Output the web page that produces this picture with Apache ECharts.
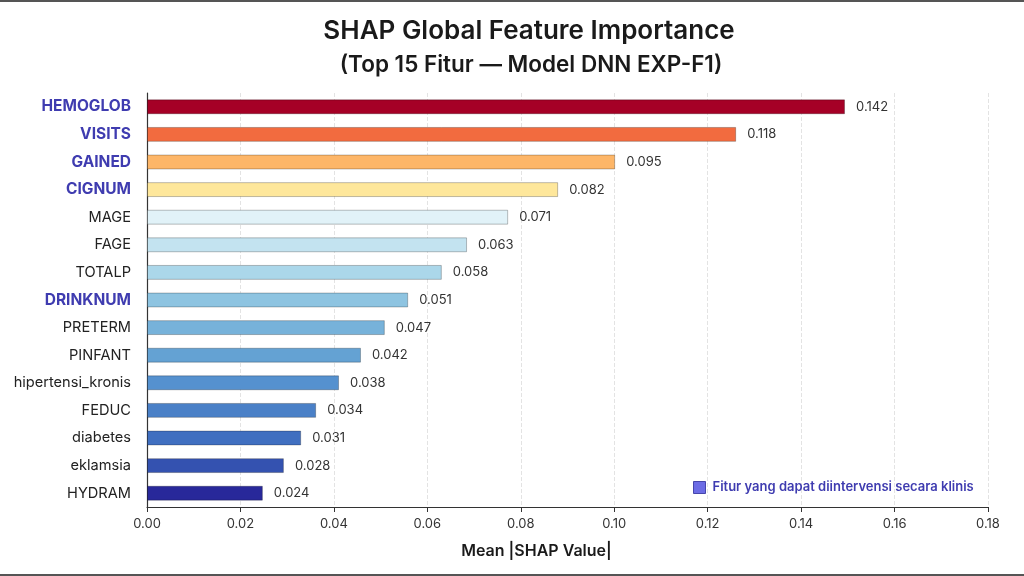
<!DOCTYPE html>
<html>
<head>
<meta charset="utf-8">
<script src="https://cdn.jsdelivr.net/npm/echarts@6/dist/echarts.min.js"></script>
<style>
html,body{margin:0;padding:0;background:#fff;}
#c{width:1024px;height:576px;}
</style>
</head>
<body>
<div id="c"></div>
<script>
var features = ['HEMOGLOB','VISITS','GAINED','CIGNUM','MAGE','FAGE','TOTALP','DRINKNUM','PRETERM','PINFANT','hipertensi_kronis','FEDUC','diabetes','eklamsia','HYDRAM'];
// bar lengths as drawn in the picture
var barValues = [0.1494,0.1261,0.1002,0.0880,0.0773,0.0685,0.0631,0.0559,0.0509,0.0458,0.0411,0.0362,0.0330,0.0293,0.0248];
// value labels as printed in the picture
var valueLabels = ['0.142','0.118','0.095','0.082','0.071','0.063','0.058','0.051','0.047','0.042','0.038','0.034','0.031','0.028','0.024'];
var intervenable = ['HEMOGLOB','VISITS','GAINED','CIGNUM','DRINKNUM'];
var barColors = ['#a50026','#f26b3f','#fdb668','#fee79b','#e1f2f8','#c3e3f0','#abd7ea','#8ec4e1','#77b2da','#64a2d3','#5591cf','#4a80c7','#406fc0','#3452b0','#28289a'];
var xTicks = {min:0, max:0.18, interval:0.02};
var legendLabel = 'Fitur yang dapat diintervensi secara klinis';

var font = 'Inter, "Noto Sans", sans-serif';
var chart = echarts.init(document.getElementById('c'));
chart.setOption({
  backgroundColor:'#ffffff',
  animation:false,
  title:[
    {text:'SHAP Global Feature Importance', left:524, top:13, textAlign:'center',
     textStyle:{fontFamily:font, fontSize:26, fontWeight:600, color:'#1a1a1a'}},
    {text:'(Top 15 Fitur \u2014 Model DNN EXP-F1)', left:526, top:49, textAlign:'center',
     textStyle:{fontFamily:font, fontSize:22.5, fontWeight:600, color:'#1a1a1a'}}
  ],
  legend:{
    left:688, top:476, icon:'rect', itemWidth:12, itemHeight:12, itemGap:5,
    textStyle:{fontFamily:font, fontSize:13, fontWeight:600, color:'#3f3cb0', padding:[0,0,0,2]},
    data:[{name:legendLabel, itemStyle:{color:'#4747de', borderColor:'#2a2a9a', borderWidth:1}}]
  },
  grid:{left:147, right:36, top:93, bottom:69},
  xAxis:{
    type:'value', min:xTicks.min, max:xTicks.max, interval:xTicks.interval,
    name:'Mean |SHAP Value|', nameLocation:'middle', nameGap:36,
    nameTextStyle:{fontFamily:font, fontSize:16, fontWeight:600, color:'#1a1a1a', padding:[0,62,0,0]},
    axisLine:{show:true, lineStyle:{color:'#333', width:1.2}},
    axisTick:{show:true, length:5, lineStyle:{color:'#333'}},
    axisLabel:{fontFamily:font, fontSize:13, color:'#333', margin:11,
      formatter:function(v){return v.toFixed(2);}},
    splitLine:{show:true, lineStyle:{color:'#e3e3e3', type:'dashed'}}
  },
  yAxis:{
    type:'category', data:features, inverse:true,
    axisLine:{show:true, lineStyle:{color:'#333', width:1.2}},
    axisTick:{show:false},
    axisLabel:{margin:16, formatter:function(v){
        return intervenable.indexOf(v)>=0 ? '{b|'+v+'}' : '{n|'+v+'}';},
      rich:{
        b:{fontFamily:font, fontSize:15.5, fontWeight:700, color:'#3f3cb0'},
        n:{fontFamily:font, fontSize:14.6, fontWeight:400, color:'#222'}
      }},
    splitLine:{show:false}
  },
  series:[
    {type:'bar', name:'SHAP', barCategoryGap:'46%',
     data:barValues.map(function(v,i){return {value:v, itemStyle:{color:barColors[i]}};}),
     itemStyle:{borderColor:'rgba(0,0,0,0.25)', borderWidth:1},
     label:{show:true, position:'right', distance:11, fontFamily:font, fontSize:13, color:'#333',
       formatter:function(p){return valueLabels[p.dataIndex];}}
    },
    {type:'scatter', name:legendLabel, data:[], itemStyle:{color:'#4747de'}}
  ],
  graphic:[
    {type:'rect', shape:{x:0,y:0,width:1024,height:2}, style:{fill:'#555'}, silent:true},
    {type:'rect', shape:{x:0,y:574,width:1024,height:2}, style:{fill:'#555'}, silent:true}
  ]
});
</script>
</body>
</html>
